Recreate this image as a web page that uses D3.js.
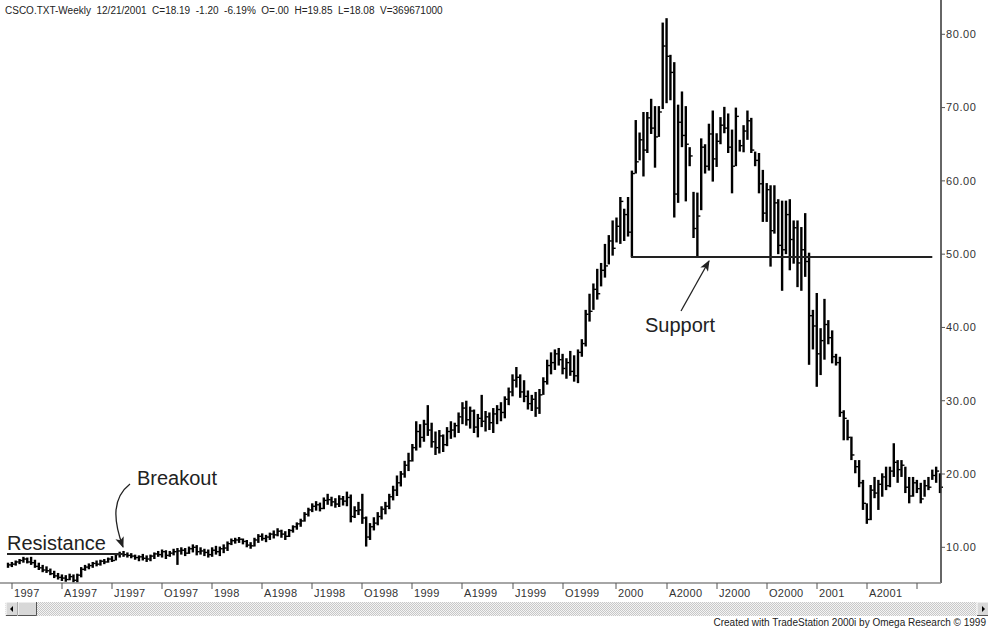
<!DOCTYPE html>
<html>
<head>
<meta charset="utf-8">
<script src="https://cdn.jsdelivr.net/npm/d3@7"></script>
<style>
body { margin: 0; background: #fff; }
svg  { display: block; }
</style>
</head>
<body>
<svg id="chart" width="988" height="629"></svg>
<script>
// weekly CSCO bars, Jan 1997 .. Aug 2001
var highs = [
	7.9, 8.0, 8.2, 8.4, 8.7, 8.6, 8.7, 8.3, 7.9, 7.6,
	7.4, 7.1, 6.8, 6.5, 6.3, 6.2, 6.4, 6.3, 6.4, 7.3,
	7.6, 7.8, 8.0, 8.2, 8.3, 8.4, 8.6, 8.8, 9.2, 9.4,
	9.5, 9.3, 9.2, 9.0, 8.9, 9.1, 8.9, 9.0, 9.3, 9.5,
	9.7, 9.6, 9.5, 9.8, 9.9, 10.0, 9.9, 10.1, 10.4, 10.3,
	10.0, 9.8, 9.7, 10.0, 10.2, 10.1, 10.4, 10.8, 11.2, 11.3,
	11.4, 11.2, 11.0, 10.7, 11.3, 11.8, 11.9, 11.7, 12.0, 12.3,
	12.6, 12.4, 12.2, 12.5, 13.0, 13.4, 13.9, 14.8, 15.4, 16.0,
	16.3, 16.1, 16.8, 17.3, 16.9, 16.7, 17.1, 17.0, 17.6, 17.2,
	15.6, 16.2, 17.3, 14.2, 13.3, 14.1, 14.8, 15.6, 16.2, 17.3,
	18.4, 19.8, 20.4, 21.8, 22.9, 24.1, 27.2, 26.8, 27.4, 29.4,
	27.0, 25.8, 26.0, 25.4, 26.4, 27.2, 27.0, 28.4, 29.8, 30.0,
	29.2, 28.8, 28.2, 30.8, 28.6, 28.4, 29.0, 29.4, 29.8, 30.6,
	31.8, 33.6, 34.6, 33.6, 32.8, 31.4, 30.8, 31.2, 31.6, 33.2,
	35.6, 36.6, 37.0, 37.2, 36.4, 35.8, 36.8, 36.2, 37.0, 38.4,
	42.4, 44.6, 46.0, 48.0, 48.8, 51.4, 52.6, 54.6, 55.0, 57.8,
	56.2, 57.8, 61.4, 68.3, 66.6, 69.4, 69.4, 71.2, 70.2, 70.2,
	81.6, 82.2, 77.2, 76.2, 70.4, 72.2, 70.2, 64.6, 58.5, 58.4,
	65.8, 65.0, 67.8, 69.6, 66.5, 68.7, 70.1, 69.2, 67.0, 70.0,
	65.6, 67.6, 69.6, 68.6, 64.0, 63.8, 61.5, 59.7, 59.4, 59.4,
	57.5, 57.3, 57.3, 57.5, 54.6, 54.6, 53.7, 55.6, 50.2, 42.4,
	44.7, 39.9, 43.9, 41.0, 39.6, 36.4, 36.0, 28.7, 27.4, 25.1,
	21.9, 21.9, 19.2, 16.0, 18.5, 19.6, 19.2, 20.1, 21.0, 21.0,
	24.2, 21.9, 21.9, 21.0, 19.6, 19.6, 19.2, 18.8, 19.2, 19.6,
	20.6, 21.0, 20.1
];
var lows = [
	7.2, 7.3, 7.5, 7.7, 7.9, 7.8, 7.6, 7.2, 6.9, 6.6,
	6.5, 6.2, 5.8, 5.6, 5.4, 5.3, 5.5, 5.2, 5.2, 5.9,
	6.8, 7.0, 7.2, 7.4, 7.5, 7.7, 7.9, 8.0, 8.2, 8.6,
	8.7, 8.6, 8.5, 8.3, 8.1, 8.2, 8.0, 8.1, 8.4, 8.7,
	8.6, 8.4, 8.7, 8.9, 7.6, 9.0, 8.8, 9.1, 9.3, 8.9,
	9.0, 8.8, 8.6, 8.7, 9.0, 8.8, 9.2, 9.5, 10.3, 10.5,
	10.6, 10.4, 10.0, 9.8, 10.1, 10.6, 10.9, 10.7, 11.0, 11.2,
	11.5, 11.3, 11.0, 11.4, 12.0, 12.4, 12.8, 13.5, 14.2, 14.8,
	15.0, 14.9, 15.2, 15.8, 15.6, 15.4, 15.5, 15.7, 15.6, 13.4,
	14.0, 14.4, 13.2, 10.1, 11.0, 12.3, 13.0, 13.8, 14.5, 15.2,
	16.4, 17.0, 18.3, 19.5, 20.4, 21.7, 23.2, 23.6, 24.4, 25.2,
	23.6, 22.6, 22.8, 23.0, 23.8, 24.8, 25.0, 25.6, 26.8, 26.6,
	26.2, 25.6, 25.0, 26.4, 25.8, 26.0, 25.6, 26.8, 27.2, 27.6,
	29.4, 30.6, 31.8, 30.4, 29.8, 28.8, 28.6, 27.8, 28.2, 30.8,
	32.2, 33.6, 34.2, 34.8, 33.6, 33.0, 33.4, 32.6, 32.4, 36.0,
	37.4, 40.8, 42.4, 43.8, 45.6, 46.8, 48.6, 49.8, 51.6, 51.4,
	51.8, 52.4, 49.6, 61.0, 62.8, 60.6, 63.8, 66.4, 61.8, 66.0,
	69.8, 70.6, 71.0, 55.0, 57.0, 64.6, 57.2, 62.0, 52.2, 49.6,
	56.0, 61.0, 61.4, 59.9, 61.9, 65.0, 66.5, 63.8, 58.3, 62.0,
	64.0, 63.9, 65.6, 63.8, 62.0, 58.3, 54.4, 54.4, 48.3, 52.8,
	50.0, 45.0, 50.0, 47.8, 48.7, 45.5, 45.0, 46.9, 34.9, 37.0,
	31.9, 33.5, 35.6, 37.7, 35.1, 34.8, 27.8, 24.6, 24.6, 21.9,
	20.1, 18.2, 15.1, 13.2, 13.7, 16.7, 15.1, 16.9, 17.8, 18.2,
	19.6, 18.8, 19.6, 17.4, 16.0, 16.9, 17.4, 16.0, 16.9, 17.8,
	19.2, 18.8, 17.4
];
var closes = [
	7.6, 7.7, 8.0, 8.2, 8.4, 8.0, 7.9, 7.4, 7.2, 6.9,
	6.8, 6.4, 6.1, 5.9, 5.8, 5.6, 6.0, 5.5, 6.2, 7.0,
	7.3, 7.5, 7.8, 7.7, 8.1, 8.0, 8.4, 8.2, 9.0, 9.1,
	9.0, 8.9, 8.8, 8.6, 8.7, 8.5, 8.4, 8.8, 9.1, 9.0,
	9.4, 8.9, 9.2, 9.4, 9.5, 9.6, 9.2, 9.8, 10.0, 9.4,
	9.5, 9.3, 9.0, 9.6, 9.4, 9.8, 9.9, 10.5, 10.9, 11.0,
	11.1, 10.8, 10.3, 10.2, 11.0, 11.5, 11.2, 11.4, 11.8, 11.7,
	12.2, 11.8, 11.5, 12.3, 12.8, 13.2, 13.6, 14.5, 15.1, 15.6,
	15.8, 15.3, 16.4, 16.5, 16.2, 15.9, 16.6, 16.3, 16.8, 14.2,
	15.0, 15.1, 14.0, 11.4, 12.8, 13.3, 14.2, 15.2, 15.6, 16.9,
	17.8, 18.8, 20.0, 21.2, 21.8, 23.6, 25.8, 25.0, 26.8, 26.0,
	24.4, 23.6, 25.2, 24.0, 25.8, 26.0, 26.6, 27.8, 29.0, 27.4,
	28.6, 26.4, 27.6, 27.2, 27.8, 27.0, 28.2, 28.8, 28.4, 30.2,
	31.2, 32.8, 33.2, 31.2, 30.6, 29.6, 30.2, 29.0, 30.8, 32.6,
	34.8, 35.2, 36.4, 35.6, 34.4, 35.2, 34.0, 33.4, 36.6, 37.8,
	41.8, 42.2, 45.2, 44.6, 47.8, 48.4, 51.8, 50.8, 53.8, 57.2,
	55.4, 53.0, 61.0, 62.6, 65.6, 64.2, 68.6, 67.2, 66.0, 69.4,
	78.4, 77.0, 74.8, 58.2, 68.0, 66.2, 65.0, 63.4, 53.5, 55.2,
	64.6, 62.0, 66.4, 63.0, 65.4, 67.6, 67.2, 64.6, 62.0, 68.8,
	64.8, 66.8, 68.2, 64.2, 62.8, 59.6, 55.6, 58.8, 53.2, 57.0,
	51.2, 50.6, 55.4, 52.0, 53.6, 48.8, 50.6, 49.0, 41.6, 40.2,
	36.4, 38.2, 40.4, 38.6, 36.0, 35.2, 28.4, 27.6, 25.0, 22.6,
	21.0, 18.8, 16.0, 13.8, 17.8, 17.4, 18.6, 19.6, 18.4, 20.4,
	21.6, 20.6, 21.2, 18.2, 17.0, 18.8, 18.0, 16.6, 18.4, 18.2,
	19.8, 20.4, 18.2
];

// date axis: bar index of each quarter start and its label
var tickIndex  = [ 1, 14, 27, 40, 53, 66, 79, 92, 105, 118, 131, 144, 158, 171, 184, 197, 210, 223, 236 ];
var tickLabels = [ '1997', 'A1997', 'J1997', 'O1997', '1998', 'A1998', 'J1998', 'O1998', '1999', 'A1999',
                   'J1999', 'O1999', '2000', 'A2000', 'J2000', 'O2000', '2001', 'A2001', '' ];
var priceTicks = [ 10, 20, 30, 40, 50, 60, 70, 80 ];

// drawn study lines: [ first bar, last bar, price ]
var resistance = [ 0, 30, 9.1 ];
var support    = [ 162, 240, 49.6 ];

var titleText  = 'CSCO.TXT-Weekly  12/21/2001  C=18.19  -1.20  -6.19%  O=.00  H=19.85  L=18.08  V=369671000';
var footerText = 'Created with TradeStation 2000i by Omega Research \u00a9 1999';

var W = 988, H = 629;
var plot = { left: 8, right: 940, axisX: 941, top: 0, bottom: 583 };
var font = '"Liberation Sans", Arial, Helvetica, sans-serif';

var svg = d3.select( '#chart' );

var x = d3.scaleLinear()
	.domain( [ 0, highs.length - 1 ] )
	.range( [ plot.left, plot.right ] );
var y = d3.scaleLinear()
	.domain( [ 10, 80 ] )
	.range( [ 547.3, 34.3 ] );

var bars = highs.map( ( h, i ) => ( { i: i, h: h, l: lows[ i ], c: closes[ i ] } ) );

// title
svg.append( 'text' )
	.attr( 'x', 5 )
	.attr( 'y', 14 )
	.attr( 'font-family', font )
	.attr( 'font-size', '10px' )
	.attr( 'fill', '#222' )
	.attr( 'xml:space', 'preserve' )
	.style( 'white-space', 'pre' )
	.text( titleText );

// price bars
var g = svg.append( 'g' );
g.selectAll( 'line.bar' )
	.data( bars )
	.join( 'line' )
	.attr( 'class', 'bar' )
	.attr( 'x1', d => x( d.i ) )
	.attr( 'x2', d => x( d.i ) )
	.attr( 'y1', d => y( d.h ) )
	.attr( 'y2', d => y( d.l ) )
	.attr( 'stroke', '#000' )
	.attr( 'stroke-width', 2.4 );
g.selectAll( 'line.close' )
	.data( bars )
	.join( 'line' )
	.attr( 'class', 'close' )
	.attr( 'x1', d => x( d.i ) )
	.attr( 'x2', d => x( d.i ) + 3 )
	.attr( 'y1', d => y( d.c ) )
	.attr( 'y2', d => y( d.c ) )
	.attr( 'stroke', '#000' )
	.attr( 'stroke-width', 1.4 );

// resistance / support lines
[ resistance, support ].forEach( s => {
	svg.append( 'line' )
		.attr( 'x1', x( s[ 0 ] ) - 1 )
		.attr( 'x2', x( s[ 1 ] ) )
		.attr( 'y1', y( s[ 2 ] ) )
		.attr( 'y2', y( s[ 2 ] ) )
		.attr( 'stroke', '#222' )
		.attr( 'stroke-width', 2 );
} );

// y axis (right)
svg.append( 'line' )
	.attr( 'x1', plot.axisX ).attr( 'x2', plot.axisX )
	.attr( 'y1', 0 ).attr( 'y2', plot.bottom )
	.attr( 'stroke', '#333' ).attr( 'stroke-width', 1.5 );
var yt = svg.append( 'g' ).selectAll( 'g' ).data( priceTicks ).join( 'g' )
	.attr( 'transform', d => 'translate(' + plot.axisX + ',' + y( d ) + ')' );
yt.append( 'line' ).attr( 'x1', 0 ).attr( 'x2', 4 ).attr( 'stroke', '#555' );
yt.append( 'text' )
	.attr( 'x', 5 )
	.attr( 'dy', '0.35em' )
	.attr( 'font-family', font )
	.attr( 'font-size', '11px' )
	.attr( 'letter-spacing', '0.6px' )
	.attr( 'fill', '#333' )
	.text( d => d.toFixed( 2 ) );

// x axis (bottom)
svg.append( 'line' )
	.attr( 'x1', 0 ).attr( 'x2', plot.axisX )
	.attr( 'y1', plot.bottom ).attr( 'y2', plot.bottom )
	.attr( 'stroke', '#888' ).attr( 'stroke-width', 1.5 );
var xt = svg.append( 'g' ).selectAll( 'g' ).data( tickIndex ).join( 'g' )
	.attr( 'transform', d => 'translate(' + Math.round( x( d ) ) + ',' + plot.bottom + ')' );
xt.append( 'line' ).attr( 'y1', 0 ).attr( 'y2', 6 ).attr( 'stroke', '#555' );
xt.append( 'text' )
	.attr( 'x', 2 )
	.attr( 'y', 14 )
	.attr( 'font-family', font )
	.attr( 'font-size', '11px' )
	.attr( 'letter-spacing', '0.3px' )
	.attr( 'fill', '#333' )
	.text( ( d, k ) => tickLabels[ k ] );

// scroll bar
var defs = svg.append( 'defs' );
var pat = defs.append( 'pattern' )
	.attr( 'id', 'dither' )
	.attr( 'width', 2 ).attr( 'height', 2 )
	.attr( 'patternUnits', 'userSpaceOnUse' );
pat.append( 'rect' ).attr( 'width', 2 ).attr( 'height', 2 ).attr( 'fill', '#f4f4f4' );
pat.append( 'rect' ).attr( 'width', 1 ).attr( 'height', 1 ).attr( 'fill', '#c8c8c8' );
pat.append( 'rect' ).attr( 'x', 1 ).attr( 'y', 1 ).attr( 'width', 1 ).attr( 'height', 1 ).attr( 'fill', '#c8c8c8' );
svg.append( 'rect' )
	.attr( 'x', 5 ).attr( 'y', 602 ).attr( 'width', W - 5 ).attr( 'height', 14 )
	.attr( 'fill', 'url(#dither)' );
function button( bx, bw ) {
	svg.append( 'rect' ).attr( 'x', bx ).attr( 'y', 602 ).attr( 'width', bw ).attr( 'height', 14 ).attr( 'fill', '#d8d8d8' );
	svg.append( 'path' ).attr( 'd', 'M' + bx + ',616V602H' + ( bx + bw ) ).attr( 'fill', 'none' ).attr( 'stroke', '#fff' );
	svg.append( 'path' ).attr( 'd', 'M' + bx + ',615.5H' + ( bx + bw - 0.5 ) + 'V602' ).attr( 'fill', 'none' ).attr( 'stroke', '#555' );
}
button( 6, 12 );
button( 18, 19 );
button( 977, 12 );
svg.append( 'path' ).attr( 'd', 'M10,609L13,606V612Z' ).attr( 'fill', '#000' );
svg.append( 'path' ).attr( 'd', 'M985,609L982,606V612Z' ).attr( 'fill', '#000' );

// footer (right aligned so it stays inside the page)
svg.append( 'text' )
	.attr( 'x', 986 )
	.attr( 'y', 626 )
	.attr( 'text-anchor', 'end' )
	.attr( 'font-family', font )
	.attr( 'font-size', '10px' )
	.attr( 'fill', '#222' )
	.text( footerText );

// annotations
var marker = defs.append( 'marker' )
	.attr( 'id', 'head' )
	.attr( 'viewBox', '0 0 10 8' )
	.attr( 'refX', 9 ).attr( 'refY', 4 )
	.attr( 'markerWidth', 11 ).attr( 'markerHeight', 9 )
	.attr( 'markerUnits', 'userSpaceOnUse' )
	.attr( 'orient', 'auto' );
marker.append( 'path' ).attr( 'd', 'M0,0L10,4L0,8L2.5,4Z' ).attr( 'fill', '#222' );

function label( tx, ty, t ) {
	svg.append( 'text' )
		.attr( 'x', tx ).attr( 'y', ty )
		.attr( 'font-family', '"Liberation Sans", Helvetica, Arial, sans-serif' )
		.attr( 'font-size', '20px' )
		.attr( 'fill', '#222' )
		.text( t );
}
label( 7, 550, 'Resistance' );
label( 137, 485, 'Breakout' );
label( 645, 332, 'Support' );

svg.append( 'path' )
	.attr( 'd', 'M130,484C112,498 113,520 123,547' )
	.attr( 'fill', 'none' )
	.attr( 'stroke', '#222' )
	.attr( 'stroke-width', 1.3 )
	.attr( 'marker-end', 'url(#head)' );
svg.append( 'path' )
	.attr( 'd', 'M681,311L709,261' )
	.attr( 'fill', 'none' )
	.attr( 'stroke', '#222' )
	.attr( 'stroke-width', 1.3 )
	.attr( 'marker-end', 'url(#head)' );
</script>
</body>
</html>
